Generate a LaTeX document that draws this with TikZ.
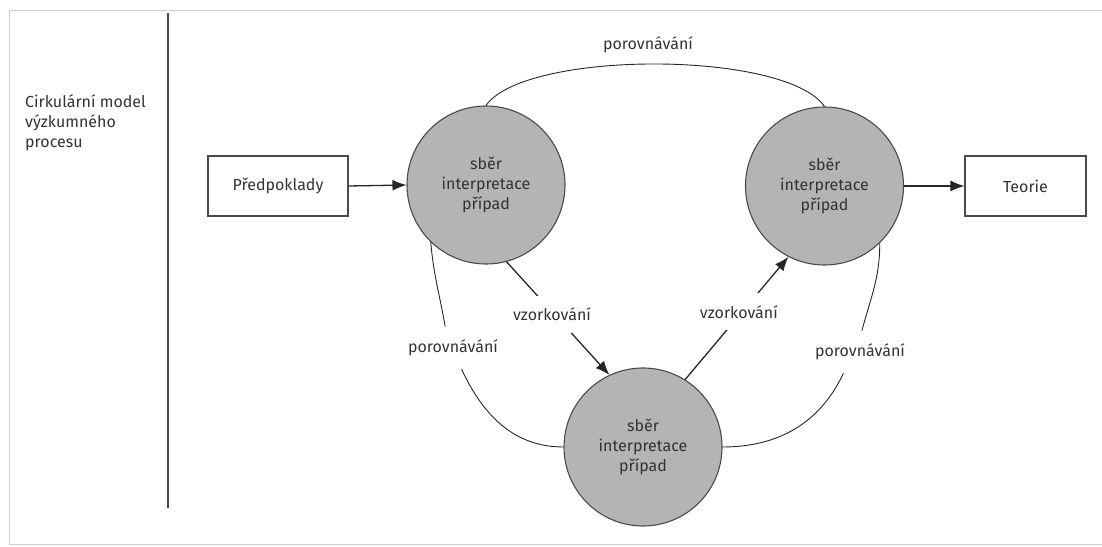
\documentclass[tikz,border=0pt]{standalone}
\usepackage{fontspec}
\setmainfont{Fira Sans}
\usetikzlibrary{arrows.meta}
\definecolor{txt}{HTML}{333333}
\definecolor{circfill}{HTML}{B4B4B4}
\definecolor{circline}{HTML}{4A4A4A}
\definecolor{lineclr}{HTML}{262626}
\definecolor{framegray}{HTML}{CFCFCF}
\begin{document}
\begin{tikzpicture}[x=1pt,y=1pt,
  font=\fontsize{16}{20}\selectfont, text=txt,
  proc/.style={circle, draw=circline, fill=circfill, line width=1.1pt, minimum size=158pt, inner sep=0pt, align=center},
  boxnode/.style={draw=circline, line width=1.1pt, fill=white, minimum height=60pt, align=center},
  lab/.style={fill=white, inner xsep=2pt, inner ysep=12pt},
  plab/.style={inner xsep=2pt, inner ysep=13pt},
  conn/.style={draw=lineclr, line width=1.3pt, -{Latex[length=14pt,width=11pt]}},
  curve/.style={draw=lineclr, line width=0.9pt}]
\useasboundingbox (0,0) rectangle (1102,546);
% frame
\draw[framegray, line width=1pt] (1102,535) -- (9,535) -- (9,2) -- (1102,2);
\draw[circline, line width=1.4pt] (168,533) -- (168,38);
% left title
\node[anchor=north west, align=left, inner sep=0pt] (title) at (25,452)
  {Cirkulární model\\výzkumného\\procesu};
% nodes
\node[boxnode, minimum width=140pt] (pred) at (278,360) {Předpoklady};
\node[proc] (c1) at (486,361) {sběr\\interpretace\\případ};
\node[proc] (c2) at (824.5,360) {sběr\\interpretace\\případ};
\node[proc] (c3) at (643,99) {sběr\\interpretace\\případ};
\node[boxnode, minimum width=121pt] (teorie) at (1025.5,360) {Teorie};
% labels
\node (tp) at (648,501) {porovnávání};
\node[plab] (lp) at (453,198) {porovnávání};
\node[plab] (rp) at (860,194) {porovnávání};
% straight connectors
\draw[conn] (pred.east) -- (c1.west);
\draw[conn] (c2.east) -- (teorie.west);
\draw[conn] (c1.-75) -- node[lab, pos=0.5, xshift=-6pt, yshift=4pt] {vzorkování} (c3.115);
\draw[conn] (c3.58) -- node[lab, pos=0.52, yshift=4pt] {vzorkování} (c2.243);
% comparison curves
\draw[curve] (c1.north) .. controls (525,496) and (785,496) .. (c2.north);
\draw[curve] (c1.226) to[out=-85,in=100] (lp.110);
\draw[curve] (lp.-68) to[out=-65,in=180] (c3.west);
\draw[curve] (c2.-46) to[out=-90,in=75] (rp.85);
\draw[curve] (rp.-128) to[out=-115,in=0] (c3.east);
\end{tikzpicture}
\end{document}
